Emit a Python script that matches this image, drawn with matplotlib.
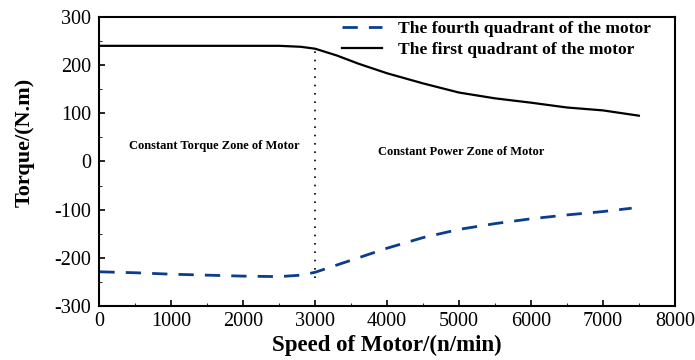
import matplotlib
matplotlib.use('Agg')
import matplotlib.pyplot as plt
from matplotlib.ticker import MultipleLocator

plt.rcParams['font.family'] = ['Liberation Serif', 'DejaVu Serif']
plt.rcParams['axes.unicode_minus'] = False

# motor torque envelope, first quadrant (motoring)
speed_first = [0, 500, 1000, 1500, 2000, 2500, 2800, 3000, 3300, 3600, 4000,
               4500, 5000, 5500, 6000, 6500, 7000, 7500]
torque_first = [240, 240, 240, 240, 240, 240, 238, 234, 220, 203, 183,
                162, 143, 131, 122, 112, 106, 95]

# fourth quadrant (regenerating)
speed_fourth = [0, 500, 1000, 1500, 2000, 2500, 2800, 3000, 3300, 3600, 4000,
                4500, 5000, 5500, 6000, 6500, 7000, 7400]
torque_fourth = [-229, -231, -234, -236, -238, -239, -236, -230, -215, -200, -180,
                 -158, -141, -129, -119, -111, -104, -97]

boundary_speed = 3000
boundary_range = [-242, 237]

fig, ax = plt.subplots(figsize=(6.95, 3.6), dpi=100)
fig.subplots_adjust(left=0.143, right=0.971, top=0.953, bottom=0.15)

ax.plot(speed_fourth, torque_fourth, linestyle=(0, (5.5, 4)), color='#0a3d8f',
        linewidth=2, label='The fourth quadrant of the motor')
ax.plot(speed_first, torque_first, color='black', linewidth=1.6,
        label='The first quadrant of the motor')
ax.plot([boundary_speed, boundary_speed], boundary_range, linestyle=(0, (1, 4)),
        color='black', linewidth=1.2)

ax.text(1600, 32, 'Constant Torque Zone of Motor', ha='center', va='center',
        fontsize=9, fontweight='bold')
ax.text(5030, 20, 'Constant Power Zone of Motor', ha='center', va='center',
        fontsize=9, fontweight='bold')

ax.set_xlim(0, 8000)
ax.set_ylim(-300, 300)
ax.xaxis.set_major_locator(MultipleLocator(1000))
ax.xaxis.set_minor_locator(MultipleLocator(500))
ax.yaxis.set_major_locator(MultipleLocator(100))
ax.yaxis.set_minor_locator(MultipleLocator(50))
ax.tick_params(which='major', direction='in', length=4, width=1.2, labelsize=14.5)
ax.tick_params(axis='y', which='major', pad=6)
ax.tick_params(axis='x', which='major', pad=4)
ax.tick_params(which='minor', direction='in', length=2, width=0.6)
for s in ax.spines.values():
    s.set_linewidth(1.5)

ax.set_xlabel('Speed of Motor/(n/min)', fontsize=16.5, fontweight='bold', labelpad=3)
ax.set_ylabel('Torque/(N.m)', fontsize=16, fontweight='bold')
ax.yaxis.set_label_coords(-0.112, 0.567)

leg = ax.legend(loc='upper right', bbox_to_anchor=(0.985, 1.04), frameon=False,
                prop={'weight': 'bold', 'size': 12.6}, handlelength=2.3,
                labelspacing=0.25, handletextpad=0.9)

fig.savefig('out.png', dpi=100)
